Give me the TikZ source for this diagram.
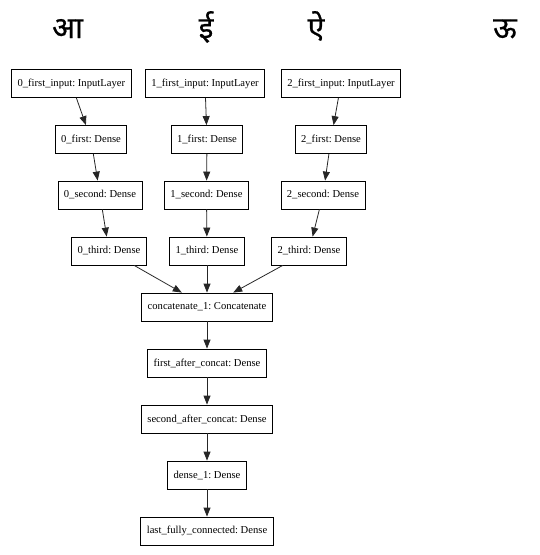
\documentclass[tikz,border=0pt]{standalone}
\usepackage{fontspec}
\setmainfont{Liberation Serif}
\newfontfamily\devfont[Script=Devanagari,FakeBold=0.6]{Noto Sans}
\usetikzlibrary{arrows.meta}
\frenchspacing

\begin{document}
\begin{tikzpicture}[x=1pt,y=-1pt,
  layer/.style={draw=black, line width=0.8pt, minimum height=28pt, inner xsep=6pt, font=\fontsize{10.6}{12}\selectfont},
  flow/.style={draw=black!85, line width=0.8pt, -{Triangle[length=9pt,width=7pt]}},
  glyph/.style={anchor=base, inner sep=0pt, font=\devfont\fontsize{30}{30}\selectfont}]
\useasboundingbox (0,0) rectangle (539,555);

% letters on top
\node[glyph] (aa) at (67.5,38) {आ};
\node[glyph] (ii) at (206,38) {ई};
\node[glyph] (ai) at (316,38) {ऐ};
\node[glyph] (uu) at (505,38) {ऊ};

% three input branches
\node[layer] (in0) at (71.3,83.5) {0\_first\_input: InputLayer};
\node[layer] (in1) at (205,83.5) {1\_first\_input: InputLayer};
\node[layer] (in2) at (341,83.5) {2\_first\_input: InputLayer};
\node[layer] (fst0) at (91,139.5) {0\_first: Dense};
\node[layer] (fst1) at (207,139.5) {1\_first: Dense};
\node[layer] (fst2) at (331,139.5) {2\_first: Dense};
\node[layer] (snd0) at (100,195) {0\_second: Dense};
\node[layer] (snd1) at (206.5,195) {1\_second: Dense};
\node[layer] (snd2) at (323,195) {2\_second: Dense};
\node[layer] (trd0) at (109,251) {0\_third: Dense};
\node[layer] (trd1) at (207,251) {1\_third: Dense};
\node[layer] (trd2) at (309,251) {2\_third: Dense};

% merged part
\node[layer] (concat) at (207,307) {concatenate\_1: Concatenate};
\node[layer] (fac) at (207,363) {first\_after\_concat: Dense};
\node[layer] (sac) at (207,419) {second\_after\_concat: Dense};
\node[layer] (dense) at (207,475) {dense\_1: Dense};
\node[layer] (last) at (207,531) {last\_fully\_connected: Dense};

\draw[flow] (in0) -- (fst0);
\draw[flow] (in1) -- (fst1);
\draw[flow] (in2) -- (fst2);
\draw[flow] (fst0) -- (snd0);
\draw[flow] (fst1) -- (snd1);
\draw[flow] (fst2) -- (snd2);
\draw[flow] (snd0) -- (trd0);
\draw[flow] (snd1) -- (trd1);
\draw[flow] (snd2) -- (trd2);
\draw[flow] (trd0) -- (concat);
\draw[flow] (trd1) -- (concat);
\draw[flow] (trd2) -- (concat);
\draw[flow] (concat) -- (fac);
\draw[flow] (fac) -- (sac);
\draw[flow] (sac) -- (dense);
\draw[flow] (dense) -- (last);
\end{tikzpicture}
\end{document}
